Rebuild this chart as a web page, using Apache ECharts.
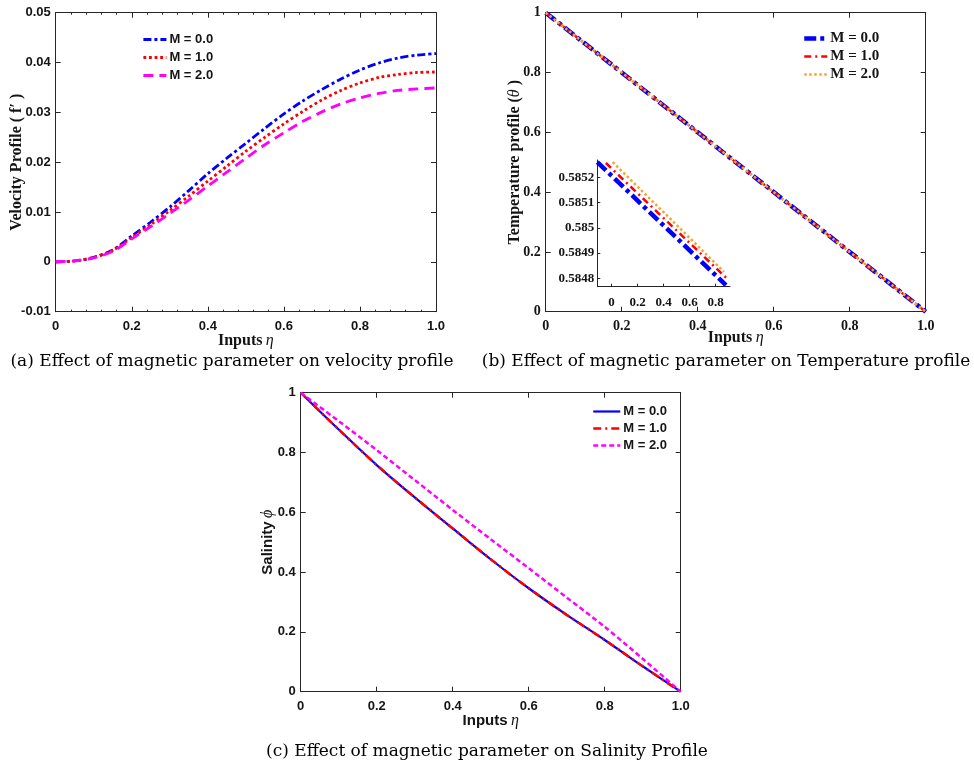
<!DOCTYPE html>
<html><head><meta charset="utf-8">
<script src="https://cdn.jsdelivr.net/npm/echarts@6/dist/echarts.min.js"></script>
<style>html,body{margin:0;padding:0;background:#fff}#c{width:974px;height:767px}</style>
</head><body><div id="c"></div>
<script>
// ---------- data ----------
const legendLabels = ['M = 0.0', 'M = 1.0', 'M = 2.0'];
const xTicks = [0, 0.2, 0.4, 0.6, 0.8, 1.0];

// (a) velocity profile f'
const etaA  = [0,0.05,0.1,0.15,0.2,0.25,0.3,0.35,0.4,0.45,0.5,0.55,0.6,0.65,0.7,0.75,0.8,0.85,0.9,0.95,1.0];
const velM0 = [0,0.0002,0.0009,0.0024,0.0052,0.0080,0.0110,0.0143,0.0177,0.0208,0.0238,0.0268,0.0297,0.0323,0.0346,0.0367,0.0385,0.0399,0.0409,0.0415,0.0418];
const velM1 = [0,0.0002,0.0009,0.0023,0.0049,0.0075,0.0103,0.0132,0.0162,0.0192,0.0222,0.0250,0.0277,0.0302,0.0325,0.0344,0.0359,0.0370,0.0376,0.0380,0.0381];
const velM2 = [0,0.0002,0.0008,0.0021,0.0046,0.0071,0.0097,0.0124,0.0152,0.0180,0.0208,0.0235,0.0259,0.0282,0.0301,0.0317,0.0329,0.0338,0.0344,0.0347,0.0349];

// (b) temperature profile theta
const etaB   = [0,0.1,0.2,0.3,0.4,0.5,0.6,0.7,0.8,0.9,1.0];
const tempM0 = [1,0.9,0.8,0.7,0.6,0.5,0.4,0.3,0.2,0.1,0];
const tempM1 = [1,0.9,0.8,0.7,0.6,0.5,0.4,0.3,0.2,0.1,0];
const tempM2 = [1,0.9,0.8,0.7,0.6,0.5,0.4,0.3,0.2,0.1,0];
// (b) inset (zoomed view)
const insetEtaM0  = [-0.11, 0.879];
const insetTempM0 = [0.585261, 0.584773];
const insetEtaM1  = [-0.044, 0.885];
const insetTempM1 = [0.585257, 0.584800];
const insetEtaM2  = [0.008, 0.864];
const insetTempM2 = [0.585261, 0.584826];
const insetYTicks = [0.5848, 0.5849, 0.585, 0.5851, 0.5852];
const insetXTicks = [0, 0.2, 0.4, 0.6, 0.8];

// (c) salinity profile phi
const etaC  = [0,0.1,0.2,0.3,0.4,0.5,0.6,0.7,0.8,0.9,1.0];
const salM0 = [1,0.877,0.758,0.650,0.546,0.443,0.346,0.257,0.173,0.085,0];
const salM1 = [1,0.877,0.758,0.650,0.546,0.443,0.346,0.257,0.173,0.085,0];
const salM2 = [1,0.905,0.808,0.708,0.608,0.510,0.413,0.315,0.217,0.110,0];

// ---------- styling ----------
const SANS = "'Liberation Sans',Arial,sans-serif";
const SERIF = "'Liberation Serif','Times New Roman',serif";
const CAPFONT = "'DejaVu Serif',serif";
const INK = '#262626';
const TXT = '#141414';

const zip = (xs, ys) => xs.map((x, i) => [x, ys[i]]);
const fmtX = v => (v === 0 ? '0' : v.toFixed(1));
const fmtY1 = v => (v === 0 || v === 1 ? String(v) : v.toFixed(1));
const fmtYA = v => (Math.abs(v) < 1e-9 ? '0' : v.toFixed(2));

function xAx(gi, pos, font, fs, extra) {
  return Object.assign({
    type: 'value', gridIndex: gi, position: pos, min: 0, max: 1, interval: 0.2,
    nameMoveOverlap: false,
    axisLine: {show: true, onZero: false, lineStyle: {color: INK, width: 1}},
    axisTick: {show: true, inside: true, length: 5, lineStyle: {color: INK}},
    splitLine: {show: false},
    axisLabel: {show: pos === 'bottom', formatter: fmtX, margin: 8, color: TXT,
      fontFamily: font, fontWeight: 'bold', fontSize: fs}
  }, extra || {});
}
function yAx(gi, pos, font, fs, extra) {
  return Object.assign({
    type: 'value', gridIndex: gi, position: pos, min: 0, max: 1, interval: 0.2,
    nameMoveOverlap: false,
    axisLine: {show: true, onZero: false, lineStyle: {color: INK, width: 1}},
    axisTick: {show: true, inside: true, length: 5, lineStyle: {color: INK}},
    splitLine: {show: false},
    axisLabel: {show: pos === 'left', formatter: fmtY1, margin: 5, color: TXT,
      fontFamily: font, fontWeight: 'bold', fontSize: fs}
  }, extra || {});
}

const serifName = {b: {fontFamily: SERIF, fontWeight: 'bold', fontSize: 16, color: TXT},
                   i: {fontFamily: SERIF, fontStyle: 'italic', fontSize: 16, color: TXT}};
const sansName = {b: {fontFamily: SANS, fontWeight: 'bold', fontSize: 15, color: TXT},
                  i: {fontFamily: SERIF, fontStyle: 'italic', fontSize: 16, color: TXT}};

const minorA = {minorTick: {show: true, splitNumber: 5, length: 2, lineStyle: {color: INK}}};

const xAxis = [
  // grid 0 (a)
  xAx(0, 'bottom', SANS, 13, Object.assign({name: '{b|Inputs} {i|η}', nameLocation: 'middle', nameGap: 21,
    nameTextStyle: {rich: serifName}}, minorA)),
  xAx(0, 'top', SANS, 13, minorA),
  // grid 1 (b)
  xAx(1, 'bottom', SERIF, 14, {name: '{b|Inputs} {i|η}', nameLocation: 'middle', nameGap: 18,
    nameTextStyle: {rich: serifName}}),
  xAx(1, 'top', SERIF, 14),
  // grid 2 (c)
  xAx(2, 'bottom', SANS, 13, {name: '{b|Inputs} {i|η}', nameLocation: 'middle', nameGap: 21,
    nameTextStyle: {rich: sansName}}),
  xAx(2, 'top', SANS, 13),
  // grid 3 inset
  {type: 'value', gridIndex: 3, position: 'bottom', min: -0.11, max: 0.91,
    axisLine: {show: true, onZero: false, lineStyle: {color: INK, width: 1}},
    axisTick: {show: true, inside: true, length: 3, customValues: insetXTicks, lineStyle: {color: INK}},
    splitLine: {show: false},
    axisLabel: {show: true, customValues: insetXTicks, formatter: fmtX, margin: 9, color: TXT,
      fontFamily: SERIF, fontWeight: 'bold', fontSize: 13}}
];

const yAxis = [
  yAx(0, 'left', SANS, 13, {min: -0.01, max: 0.05, interval: 0.01,
    axisLabel: {formatter: fmtYA, margin: 5, color: TXT, fontFamily: SANS, fontWeight: 'bold', fontSize: 13},
    name: 'Velocity Profile ( f′ )', nameLocation: 'middle', nameGap: 31,
    nameTextStyle: {fontFamily: SERIF, fontWeight: 'bold', fontSize: 16, color: TXT}}),
  yAx(0, 'right', SANS, 13, {min: -0.01, max: 0.05, interval: 0.01}),
  yAx(1, 'left', SERIF, 14, {name: '{b|Temperature profile (}{i|θ}{b| )}', nameLocation: 'middle', nameGap: 23,
    nameTextStyle: {rich: serifName}}),
  yAx(1, 'right', SERIF, 14),
  yAx(2, 'left', SANS, 13, {name: '{b|Salinity} {i|ϕ}', nameLocation: 'middle', nameGap: 25,
    nameTextStyle: {rich: sansName}}),
  yAx(2, 'right', SANS, 13),
  {type: 'value', gridIndex: 3, position: 'left', min: 0.584767, max: 0.585269,
    axisLine: {show: true, onZero: false, lineStyle: {color: INK, width: 1}},
    axisTick: {show: true, inside: true, length: 3, customValues: insetYTicks, lineStyle: {color: INK}},
    splitLine: {show: false},
    axisLabel: {show: true, customValues: insetYTicks, formatter: v => String(+v.toFixed(4)), margin: 3, color: TXT,
      fontFamily: SERIF, fontWeight: 'bold', fontSize: 13}}
];

function line(name, xi, yi, data, color, width, dash, smooth) {
  return {type: 'line', name: name, xAxisIndex: xi, yAxisIndex: yi, data: data,
    symbol: 'none', smooth: smooth ? 0.3 : false, silent: true, animation: false,
    lineStyle: {color: color, width: width, type: dash, cap: 'butt'},
    itemStyle: {color: color}};
}

const BLUE = '#0000FF', RED = '#FF0000', MAG = '#FF00FF', ORANGE = '#F2A630';

const series = [
  line('a0', 0, 0, zip(etaA, velM0), BLUE, 2.8, [8, 3, 3, 3], true),
  line('a1', 0, 0, zip(etaA, velM1), RED, 2.8, [2.8, 2.8], true),
  line('a2', 0, 0, zip(etaA, velM2), MAG, 2.8, [10, 6], true),
  line('b0', 2, 2, zip(etaB, tempM0), BLUE, 4.5, [12, 4, 4, 4], false),
  line('b1', 2, 2, zip(etaB, tempM1), RED, 2.5, [7, 4, 2, 4], false),
  line('b2', 2, 2, zip(etaB, tempM2), ORANGE, 2.5, [2.5, 2.5], false),
  line('i0', 6, 6, zip(insetEtaM0, insetTempM0), BLUE, 4.5, [12, 4, 4, 4], false),
  line('i1', 6, 6, zip(insetEtaM1, insetTempM1), RED, 2.5, [7, 4, 2, 4], false),
  line('i2', 6, 6, zip(insetEtaM2, insetTempM2), ORANGE, 2.5, [2.5, 2.5], false),
  line('c0', 4, 4, zip(etaC, salM0), BLUE, 2.2, 'solid', true),
  line('c1', 4, 4, zip(etaC, salM1), RED, 2.5, [8, 4, 2, 4], true),
  line('c2', 4, 4, zip(etaC, salM2), MAG, 2.5, [5, 3], true)
];

const names = {a0: legendLabels[0], a1: legendLabels[1], a2: legendLabels[2],
               b0: legendLabels[0], b1: legendLabels[1], b2: legendLabels[2],
               c0: legendLabels[0], c1: legendLabels[1], c2: legendLabels[2]};

function leg(ids, left, top, w, gap, font, fs) {
  return {data: ids, formatter: n => names[n], orient: 'vertical', left: left, top: top,
    itemWidth: w, itemHeight: 12, itemGap: gap, selectedMode: false, padding: 0,
    itemStyle: {opacity: 0, borderWidth: 0},
    lineStyle: {width: 'inherit'},
    textStyle: {fontFamily: font, fontWeight: 'bold', fontSize: fs, color: TXT, padding: [0, 0, 0, -2]}};
}

const capStyle = {fontFamily: CAPFONT, fontSize: 17, fill: '#000', align: 'center', verticalAlign: 'middle'};

const option = {
  backgroundColor: '#fff',
  animation: false,
  grid: [
    {left: 55.7, top: 12.7, width: 380.3, height: 299},
    {left: 545.7, top: 12.7, width: 380, height: 299},
    {left: 300.7, top: 392.7, width: 380, height: 299},
    {left: 597.3, top: 160, width: 132.7, height: 126.7}
  ],
  xAxis: xAxis,
  yAxis: yAxis,
  legend: [
    leg(['a0', 'a1', 'a2'], 142, 33, 23, 5, SANS, 13),
    leg(['b0', 'b1', 'b2'], 802, 31, 23, 3, SERIF, 15),
    leg(['c0', 'c1', 'c2'], 592, 405, 27, 4, SANS, 13)
  ],
  series: series,
  graphic: [
    {type: 'text', x: 232, y: 362, style: Object.assign({text: '(a) Effect of magnetic parameter on velocity profile'}, capStyle)},
    {type: 'text', x: 726, y: 362, style: Object.assign({text: '(b) Effect of magnetic parameter on Temperature profile'}, capStyle)},
    {type: 'text', x: 487, y: 752, style: Object.assign({text: '(c) Effect of magnetic parameter on Salinity Profile'}, capStyle)}
  ]
};

const chart = echarts.init(document.getElementById('c'), null, {renderer: 'canvas'});
chart.setOption(option);
</script></body></html>
